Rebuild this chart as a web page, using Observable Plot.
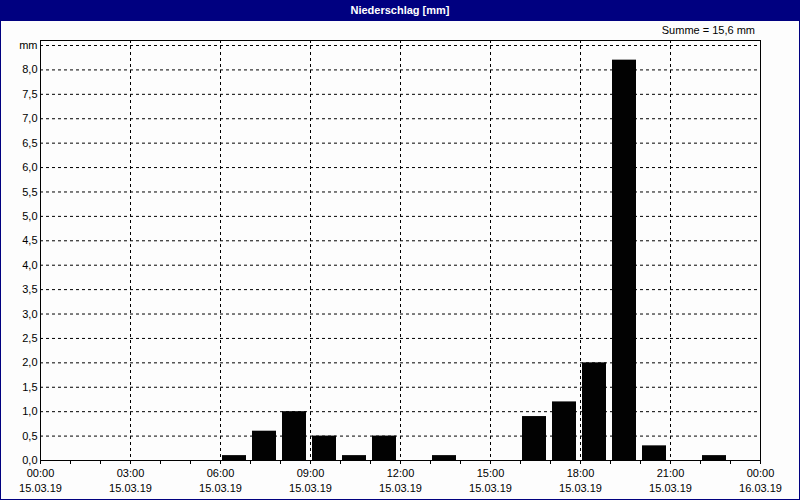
<!DOCTYPE html>
<html>
<head>
<meta charset="utf-8">
<script src="https://cdn.jsdelivr.net/npm/d3@7"></script>
<script src="https://cdn.jsdelivr.net/npm/@observablehq/plot@0.6"></script>
<style>
  html, body { margin: 0; padding: 0; background: #fff; }
  #wrap { position: relative; width: 800px; height: 500px; background: #fdfdfd; font-family: "Liberation Sans", Arial, sans-serif; overflow: hidden; }
  #title { position: absolute; left: 0; top: 0; width: 800px; height: 21px; background: #000080; color: #fff; font-weight: bold; font-size: 11px; line-height: 21px; text-align: center; }
  #sum { position: absolute; right: 45px; top: 24px; font-size: 11px; color: #000; }
  #chart { position: absolute; left: 0; top: 21px; }
  #border { position: absolute; left: 0; top: 0; width: 798px; height: 498px; border: 1px solid #000080; pointer-events: none; }
</style>
</head>
<body>
<div id="wrap">
  <div id="title">Niederschlag [mm]</div>
  <div id="sum">Summe = 15,6 mm</div>
  <div id="chart"></div>
  <div id="border"></div>
</div>
<script>
// hourly precipitation, 15.03.19 (hour of day start)
const hours = [0,1,2,3,4,5,6,7,8,9,10,11,12,13,14,15,16,17,18,19,20,21,22,23];
const values = [0,0,0,0,0,0,0.1,0.6,1.0,0.5,0.1,0.5,0,0.1,0,0,0.9,1.2,2.0,8.2,0.3,0,0.1,0];
const majorTicks = [0,3,6,9,12,15,18,21,24];
const timeLabels = ["00:00","03:00","06:00","09:00","12:00","15:00","18:00","21:00","00:00"];
const dateLabels = ["15.03.19","15.03.19","15.03.19","15.03.19","15.03.19","15.03.19","15.03.19","15.03.19","16.03.19"];
const yTicks = [0,0.5,1,1.5,2,2.5,3,3.5,4,4.5,5,5.5,6,6.5,7,7.5,8,8.5];
const unitLabel = "mm";

const data = hours.map((h, i) => ({h, v: values[i]}));
const fmtY = d => d === 8.5 ? unitLabel : d.toFixed(1).replace(".", ",");

const chart = Plot.plot({
  width: 800,
  height: 479,
  marginLeft: 40,
  marginRight: 40,
  marginTop: 19,
  marginBottom: 40,
  style: {fontFamily: "Liberation Sans, Arial, sans-serif", fontSize: "11px", background: "transparent", color: "#000"},
  x: {type: "linear", domain: [0, 24]},
  y: {domain: [0, 8.5], insetTop: 5},
  marks: [
    Plot.gridY(yTicks.filter(d => d > 0), {stroke: "#000", strokeOpacity: 1, strokeDasharray: "3,3"}),
    Plot.gridX(majorTicks.filter(d => d > 0 && d < 24), {stroke: "#000", strokeOpacity: 1, strokeDasharray: "3,3"}),
    Plot.rectY(data, {x1: "h", x2: d => d.h + 1, y: "v", fill: "#020202", insetLeft: 2, insetRight: 4}),
    Plot.frame({stroke: "#000", strokeWidth: 1}),
    Plot.axisY({ticks: yTicks, tickSize: 0, tickPadding: 3, tickFormat: fmtY, label: null}),
    Plot.axisX({ticks: d3.range(0, 25), tickSize: 4, tickFormat: () => "", label: null}),
    Plot.axisX({ticks: majorTicks, tickSize: 0, tickPadding: 9, tickFormat: d => timeLabels[majorTicks.indexOf(d)], label: null}),
    Plot.axisX({ticks: majorTicks, tickSize: 0, tickPadding: 24, tickFormat: d => dateLabels[majorTicks.indexOf(d)], label: null})
  ]
});
document.getElementById("chart").appendChild(chart);
</script>
</body>
</html>
